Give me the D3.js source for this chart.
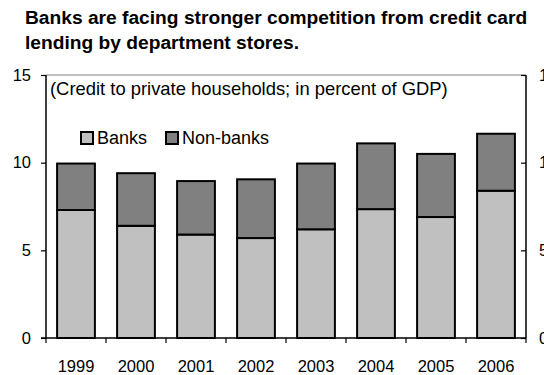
<!DOCTYPE html>
<html>
<head>
<meta charset="utf-8">
<script src="https://cdn.jsdelivr.net/npm/d3@7"></script>
<style>
  html, body { margin: 0; padding: 0; background: #fff; }
  svg { display: block; font-family: "Liberation Sans", Arial, sans-serif; }
</style>
</head>
<body>
<script>
// Credit to private households, percent of GDP
const years = ["1999", "2000", "2001", "2002", "2003", "2004", "2005", "2006"];
const banks = [7.3, 6.4, 5.9, 5.7, 6.2, 7.35, 6.9, 8.4];
const nonBanks = [2.65, 3.0, 3.05, 3.35, 3.75, 3.75, 3.6, 3.25];
const seriesNames = ["Banks", "Non-banks"];
const seriesColors = ["#c0c0c0", "#808080"];
const yTicks = [0, 5, 10, 15];

const W = 544, H = 375;
const plotLeft = 46, plotRight = 526, plotTop = 75, plotBottom = 338;

const svg = d3.select("body").append("svg").attr("width", W).attr("height", H);

// Title
const title = svg.append("text").attr("font-size", 19.2).attr("font-weight", "bold").attr("fill", "#000");
title.append("tspan").attr("x", 25).attr("y", 24).text("Banks are facing stronger competition from credit card");
title.append("tspan").attr("x", 25).attr("y", 49).text("lending by department stores.");

const x = d3.scaleBand().domain(years).range([plotLeft, plotRight]).paddingInner(0.37).paddingOuter(0.185);
const xTick = d3.scaleBand().domain(years).range([plotLeft, plotRight]);
const y = d3.scaleLinear().domain([0, 15]).range([plotBottom, plotTop]);

const rows = years.map((yr, i) => ({ year: yr, Banks: banks[i], "Non-banks": nonBanks[i] }));
const stacked = d3.stack().keys(seriesNames)(rows);

// Top frame line
svg.append("line").attr("x1", plotLeft).attr("x2", plotRight).attr("y1", plotTop).attr("y2", plotTop)
  .attr("stroke", "#808080").attr("stroke-width", 1);

// Stacked bars
svg.append("g").selectAll("g").data(stacked).join("g")
  .attr("fill", (d, i) => seriesColors[i])
  .selectAll("rect").data(d => d).join("rect")
  .attr("x", d => x(d.data.year))
  .attr("width", x.bandwidth())
  .attr("y", d => y(d[1]))
  .attr("height", d => y(d[0]) - y(d[1]))
  .attr("stroke", "#000").attr("stroke-width", 2);

// Left axis
const yAxisL = svg.append("g").attr("transform", `translate(${plotLeft},0)`)
  .call(d3.axisLeft(y).tickValues(yTicks).tickSize(5).tickPadding(10).tickFormat(d3.format("d")));
// Right axis (ticks pointing inward, labels running off the edge)
const yAxisR = svg.append("g").attr("transform", `translate(${plotRight},0)`)
  .call(d3.axisRight(y).tickValues(yTicks).tickSize(-5).tickPadding(13).tickFormat(d3.format("d")));
// Bottom axis with ticks between categories
const xAxis = svg.append("g").attr("transform", `translate(0,${plotBottom})`)
  .call(d3.axisBottom(xTick).tickSize(0).tickPadding(22));

[yAxisL, yAxisR, xAxis].forEach(g => {
  g.selectAll("text").attr("font-size", 16.5).attr("fill", "#000").attr("font-family", "Liberation Sans, Arial, sans-serif");
  g.select(".domain").attr("stroke", "#000").attr("stroke-width", 1.5);
  g.selectAll(".tick line").attr("stroke", "#000").attr("stroke-width", 1.2);
});
yAxisL.select(".domain").attr("d", `M0,${plotTop}V${plotBottom}`);
yAxisR.select(".domain").attr("d", `M0,${plotTop}V${plotBottom}`);
xAxis.select(".domain").attr("d", `M${plotLeft - 5},0H${plotRight}`);

// Category separator ticks on the bottom axis
const sepPositions = years.map(yr => xTick(yr)).concat([plotRight]);
xAxis.selectAll(".sep").data(sepPositions).join("line").attr("class", "sep")
  .attr("x1", d => d).attr("x2", d => d).attr("y1", 0).attr("y2", 5)
  .attr("stroke", "#000").attr("stroke-width", 1.2);

// Subtitle
svg.append("text").attr("x", 50).attr("y", 95).attr("font-size", 18.4).attr("fill", "#000")
  .text("(Credit to private households; in percent of GDP)");

// Legend
const legendX = [81, 166];
const leg = svg.append("g").selectAll("g").data(seriesNames).join("g")
  .attr("transform", (d, i) => `translate(${legendX[i]},132)`);
leg.append("rect").attr("width", 12).attr("height", 12)
  .attr("fill", (d, i) => seriesColors[i]).attr("stroke", "#000").attr("stroke-width", 2);
leg.append("text").attr("x", 16).attr("y", 11.5).attr("font-size", 18).attr("fill", "#000").text(d => d);
</script>
</body>
</html>
